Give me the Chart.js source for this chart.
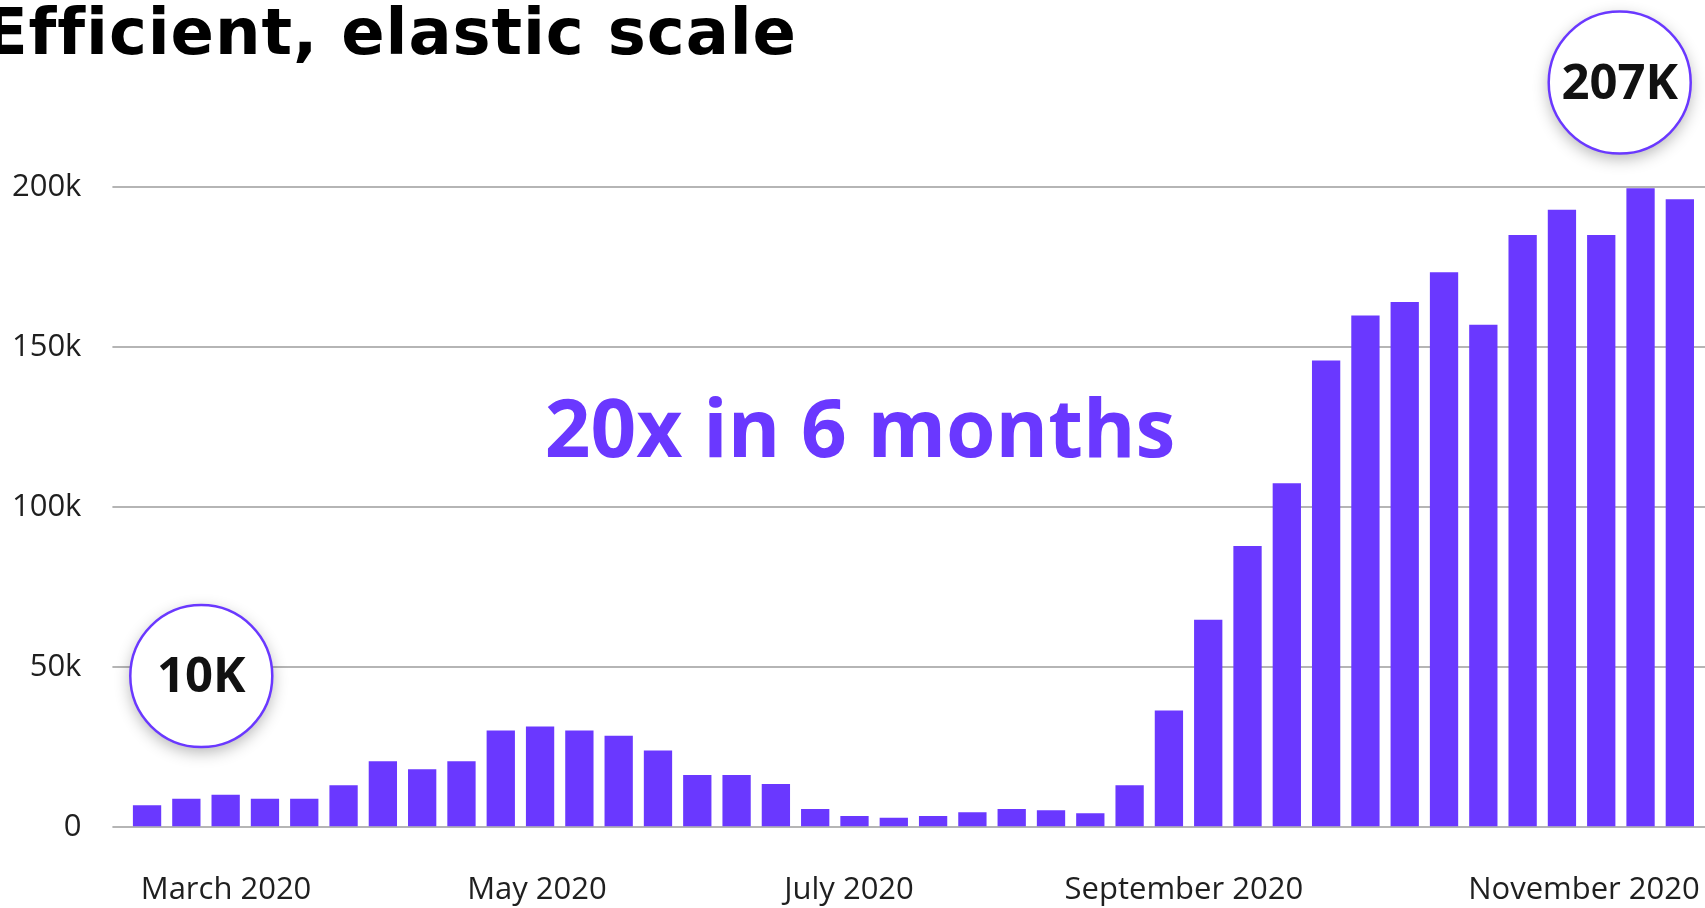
<!DOCTYPE html>
<html>
<head>
<meta charset="utf-8">
<title>Efficient, elastic scale</title>
<script src="https://cdn.jsdelivr.net/npm/chart.js@4.4.1/dist/chart.umd.min.js"></script>
<style>
  html, body { margin: 0; padding: 0; background: #fff; overflow: hidden; }
  #wrap { position: relative; width: 1705px; height: 908px; }
  #title {
    position: absolute; left: -16px; top: 0; margin: 0;
    font: bold 64px/64px "DejaVu Sans"; letter-spacing: 0.9px; color: #000;
    white-space: nowrap; z-index: 2;
  }
  canvas { position: absolute; left: 0; top: 0; }
</style>
</head>
<body>
<div id="wrap">
  <canvas id="usage" width="1705" height="908"></canvas>
  <h1 id="title">Efficient, elastic scale</h1>
</div>
<script>
// weekly values
const weeklyValues = [
  6900, 8900, 10200, 8900, 8900, 13100, 20600, 18100, 20600, 30200,
  31500, 30200, 28600, 24000, 16300, 16300, 13500, 5700, 3500, 3000,
  3500, 4700, 5700, 5300, 4400, 13100, 36500, 64800, 87800, 107400,
  145700, 159800, 164000, 173300, 156900, 184900, 192800, 184900, 199500, 196100
];

// month ticks sit between weeks, in bar index units
const tickPositions = [2.01, 9.92, 17.86, 26.38, 36.56];
const tickLabels = ['March 2020', 'May 2020', 'July 2020', 'September 2020', 'November 2020'];

// call-outs, anchored in data space (x = bar index, y = value)
const headline = { text: '20x in 6 months', x: 18.14, y: 115500 };
const callouts = [
  { text: '10K', x: 1.38, y: 47200 },
  { text: '207K', x: 37.47, y: 232500 }
];

const purple = '#6a38ff';
const tickFont = { family: 'Open Sans', size: 31 };

const calloutPlugin = {
  id: 'callouts',
  afterDraw(chart) {
    const { ctx } = chart;
    const xs = chart.scales.x, ys = chart.scales.y;
    ctx.save();
    ctx.textAlign = 'center';
    ctx.textBaseline = 'alphabetic';

    ctx.font = 'bold 80px "Open Sans"';
    ctx.fillStyle = purple;
    ctx.fillText(headline.text, xs.getPixelForValue(headline.x), ys.getPixelForValue(headline.y));

    callouts.forEach(c => {
      const cx = xs.getPixelForValue(c.x);
      const cy = ys.getPixelForValue(c.y);
      ctx.save();
      ctx.shadowColor = 'rgba(0, 0, 0, 0.3)';
      ctx.shadowBlur = 16;
      ctx.shadowOffsetY = 5;
      ctx.beginPath();
      ctx.arc(cx, cy, 71, 0, Math.PI * 2);
      ctx.fillStyle = '#fff';
      ctx.fill();
      ctx.restore();

      ctx.beginPath();
      ctx.arc(cx, cy, 71, 0, Math.PI * 2);
      ctx.lineWidth = 2.5;
      ctx.strokeStyle = purple;
      ctx.stroke();

      ctx.font = 'bold 49px "Open Sans"';
      ctx.fillStyle = '#111';
      ctx.fillText(c.text, cx, cy + 16);
    });
    ctx.restore();
  }
};

new Chart(document.getElementById('usage'), {
  type: 'bar',
  data: {
    datasets: [{
      data: weeklyValues.map((v, i) => ({ x: i, y: v })),
      backgroundColor: purple,
      borderWidth: 0,
      categoryPercentage: 0.8,
      barPercentage: 0.9
    }]
  },
  options: {
    responsive: false,
    animation: false,
    devicePixelRatio: 1,
    layout: { padding: { top: 186.7, left: 0, right: 0, bottom: 0 } },
    plugins: {
      legend: { display: false },
      tooltip: { enabled: false }
    },
    scales: {
      x: {
        type: 'linear',
        min: -0.5,
        max: 39.64,
        offset: false,
        grid: { display: false, drawTicks: false },
        border: { display: false },
        afterBuildTicks: (scale) => {
          scale.ticks = tickPositions.map(v => ({ value: v }));
        },
        ticks: {
          autoSkip: false,
          maxRotation: 0,
          padding: 44,
          color: '#1f1f1f',
          font: tickFont,
          callback: (value, index) => tickLabels[index]
        },
        afterFit: (scale) => {
          scale.height = 80.7;
          scale.paddingLeft = 0;
          scale.paddingRight = 0;
        }
      },
      y: {
        min: 0,
        max: 200000,
        grid: { color: '#b5b5b5', lineWidth: 2, tickLength: 15 },
        border: { display: false },
        ticks: {
          stepSize: 50000,
          padding: 31,
          color: '#1f1f1f',
          font: tickFont,
          callback: (v) => v === 0 ? '0' : (v / 1000) + 'k'
        },
        afterFit: (scale) => { scale.width = 127.4; }
      }
    }
  },
  plugins: [calloutPlugin]
});
</script>
</body>
</html>
